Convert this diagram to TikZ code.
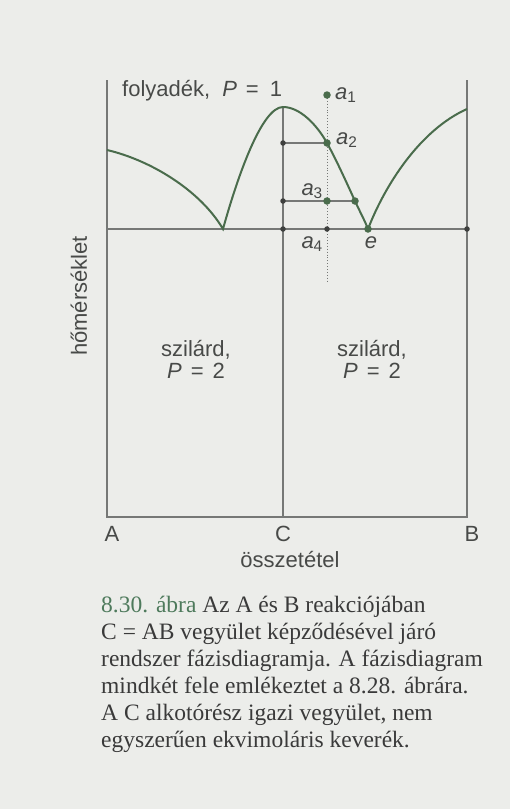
\documentclass[tikz,border=0pt]{standalone}
\usepackage{fontspec}
\setmainfont{Liberation Serif}
\setsansfont{Liberation Sans}
\usetikzlibrary{positioning}

\definecolor{paper}{RGB}{236,237,234}
\definecolor{axisgray}{RGB}{118,120,118}
\definecolor{inkgray}{RGB}{72,74,72}
\definecolor{liqgreen}{RGB}{74,108,76}
\definecolor{dotgray}{RGB}{62,64,62}
\definecolor{capgreen}{RGB}{78,122,92}
\definecolor{captext}{RGB}{58,58,58}

\begin{document}
\begin{tikzpicture}[
        x=1pt, y=-1pt,
        axis/.style={draw=axisgray, line width=1.3pt},
        liq/.style={draw=liqgreen, line width=2pt},
        probe/.style={draw=axisgray, line width=0.9pt, dotted},
        bdot/.style={circle, fill=dotgray, inner sep=0pt, minimum size=5.5pt},
        gdot/.style={circle, fill=liqgreen, inner sep=0pt, minimum size=7.5pt},
        lbl/.style={text=inkgray, font=\sffamily\fontsize{22}{22}\selectfont, inner sep=0pt},
        caption/.style={text=captext, font=\fontsize{23.5}{27}\selectfont, inner sep=0pt, anchor=base west}
    ]
    \fill[paper] (0,0) rectangle (510,809);
    \useasboundingbox (0,0) rectangle (510,809);

    % frame and phase lines
    \coordinate (Atop) at (107,80);
    \coordinate (Abot) at (107,517);
    \coordinate (Btop) at (467,80);
    \coordinate (Bbot) at (467,517);
    \coordinate (Ctop) at (283,107);
    \coordinate (Cbot) at (283,517);
    \coordinate (Aeu) at (107,229);
    \coordinate (Ceu) at (283,229);
    \coordinate (Beu) at (467,229);
    \coordinate (Aliq) at (107,150);
    \coordinate (Bliq) at (467,109);
    \coordinate (e1) at (223,229);
    \coordinate (e) at (368,229);
    % isopleth a1 -> a4
    \coordinate (a1) at (327,95);
    \coordinate (a2) at (327,143);
    \coordinate (a3) at (327,201);
    \coordinate (a4) at (327,229);
    \coordinate (pend) at (327,283);
    \coordinate (C2) at (283,143);
    \coordinate (C3) at (283,201);
    \coordinate (a3r) at (355,201);

    \draw[axis] (Atop) -- (Abot) -- (Bbot) -- (Btop);
    \draw[axis] (Ctop) -- (Cbot);
    \draw[axis] (Aeu) -- (Beu);
    \draw[axis] (C2) -- (a2);
    \draw[axis] (C3) -- (a3r);
    \draw[probe] (a1) -- (pend);

    \draw[liq] (Aliq) .. controls (150,160) and (200,190) .. (e1)
        .. controls (238,175) and (262,107) .. (Ctop)
        .. controls (300,107) and (317,125) .. (a2)
        .. controls (337,161) and (349,188) .. (a3r)
        .. controls (360,212) and (365,221) .. (e)
        .. controls (385,185) and (420,130) .. (Bliq);

    % dots
    \node[bdot] (dC2) at (C2) {};
    \node[bdot] (dC3) at (C3) {};
    \node[bdot] (dCeu) at (Ceu) {};
    \node[bdot] (da4) at (a4) {};
    \node[bdot] (dBeu) at (Beu) {};
    \node[gdot] (da1) at (a1) {};
    \node[gdot] (da2) at (a2) {};
    \node[gdot] (da3) at (a3) {};
    \node[gdot] (da3r) at (a3r) {};
    \node[gdot] (de) at (e) {};

    % labels
    \node[lbl, right=4pt of da1] (la1) {\textit{a}\textsubscript{1}};
    \node[lbl, right=5pt of da2, yshift=3pt] (la2) {\textit{a}\textsubscript{2}};
    \node[lbl, anchor=base east] (la3) at (323,195) {\textit{a}\textsubscript{3}};
    \node[lbl, anchor=base east] (la4) at (323,248) {\textit{a}\textsubscript{4}};
    \node[lbl, anchor=base] (le) at (371,248) {\textit{e}};

    \node[lbl, anchor=base west] (liquid) at (122,96)
        {folyadék,\hspace{12pt}\textit{P}\hspace{9pt}=\hspace{11pt}1};
    \node[lbl, align=center, anchor=base] (solidL) at (196,378)
        {szilárd,\\\textit{P}\hspace{9pt}=\hspace{9pt}2};
    \node[lbl, align=center, anchor=base] (solidR) at (372,378)
        {szilárd,\\\textit{P}\hspace{9pt}=\hspace{9pt}2};

    \node[lbl, anchor=base] (lA) at (112,541) {A};
    \node[lbl, anchor=base] (lC) at (283,541) {C};
    \node[lbl, anchor=base] (lB) at (472,541) {B};
    \node[lbl, anchor=base] (xlab) at (290,567) {összetétel};
    \node[lbl, rotate=90] (ylab) at (79,296) {hőmérséklet};

    % caption
    \foreach \txt [count=\i] in {
        {\textcolor{capgreen}{8.30. ábra} Az A és B reakciójában},
        {C = AB vegyület képződésével járó},
        {rendszer fázisdiagramja. A fázisdiagram},
        {mindkét fele emlékeztet a 8.28. ábrára.},
        {A C alkotórész igazi vegyület, nem},
        {egyszerűen ekvimoláris keverék.}}
        \node[caption] (cap\i) at (101, 612+27*\i-27) {\txt};
\end{tikzpicture}
\end{document}
